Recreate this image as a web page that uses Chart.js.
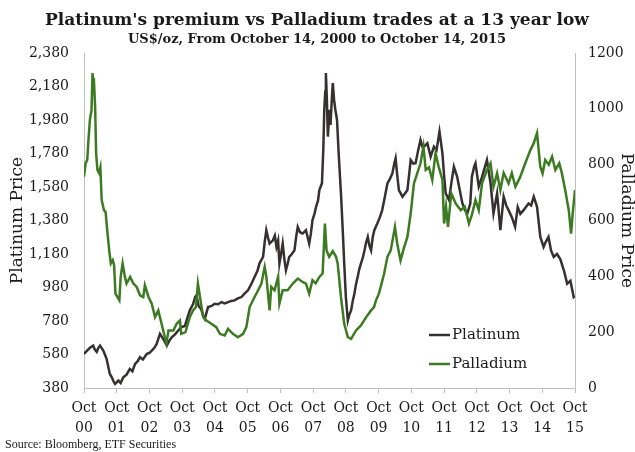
<!DOCTYPE html>
<html>
<head>
<meta charset="utf-8">
<script src="https://cdn.jsdelivr.net/npm/chart.js@4/dist/chart.umd.min.js"></script>
<style>
    html, body { margin: 0; padding: 0; background: #fff; }
</style>
</head>
<body>
<canvas id="grafico" width="635" height="452"></canvas>
<script>
const titulo = "Platinum's premium vs Palladium trades at a 13 year low";
const subtitulo = "US$/oz, From October 14, 2000 to October 14, 2015";
const fonteDados = "Source: Bloomberg, ETF Securities";

const rotulosAno = ['00', '01', '02', '03', '04', '05', '06', '07', '08', '09', '10', '11', '12', '13', '14', '15'];

// anos contados a partir de 14 out 2000
const platinaAnos = [
    0.00, 0.08, 0.18, 0.28, 0.33, 0.39, 0.44, 0.49, 0.59, 0.69, 0.79, 0.85, 0.90, 0.95, 1.05, 1.12, 1.20, 1.30, 1.40, 1.48,
    1.56, 1.64, 1.71, 1.80, 1.92, 2.00, 2.07, 2.15, 2.22, 2.32, 2.42, 2.53, 2.60, 2.68, 2.78, 2.88, 2.97, 3.08, 3.23, 3.33,
    3.40, 3.44, 3.50, 3.58, 3.64, 3.69, 3.79, 3.90, 3.99, 4.10, 4.20, 4.30, 4.40, 4.50, 4.60, 4.70, 4.81, 4.91, 5.01, 5.11,
    5.21, 5.30, 5.36, 5.47, 5.52, 5.57, 5.62, 5.67, 5.77, 5.83, 5.88, 5.93, 5.97, 6.02, 6.07, 6.12, 6.17, 6.22, 6.27, 6.35,
    6.43, 6.48, 6.53, 6.60, 6.68, 6.78, 6.88, 6.93, 6.98, 7.04, 7.09, 7.15, 7.19, 7.27, 7.31, 7.34, 7.37, 7.39, 7.42, 7.45,
    7.50, 7.53, 7.57, 7.60, 7.64, 7.68, 7.73, 7.78, 7.85, 7.90, 7.95, 8.00, 8.06, 8.11, 8.16, 8.21, 8.26, 8.31, 8.36, 8.41,
    8.46, 8.52, 8.57, 8.62, 8.67, 8.72, 8.77, 8.82, 8.87, 8.96, 9.04, 9.11, 9.19, 9.27, 9.35, 9.42, 9.48, 9.52, 9.57, 9.62,
    9.73, 9.80, 9.88, 9.93, 9.98, 10.06, 10.13, 10.20, 10.28, 10.34, 10.39, 10.49, 10.59, 10.69, 10.77, 10.86, 10.95, 11.00, 11.05, 11.15,
    11.22, 11.30, 11.40, 11.48, 11.56, 11.64, 11.71, 11.80, 11.85, 11.92, 11.96, 12.06, 12.16, 12.31, 12.42, 12.51, 12.62, 12.72, 12.82, 12.90,
    12.97, 13.07, 13.17, 13.25, 13.33, 13.43, 13.58, 13.66, 13.74, 13.84, 13.94, 14.04, 14.10, 14.19, 14.27, 14.35, 14.45, 14.55, 14.66, 14.76,
    14.86, 14.96, 15.00
];
const platinaPrecos = [
    584, 600, 620, 633, 610, 596, 620, 633, 603, 554, 464, 444, 420, 404, 424, 410, 444, 460, 494, 480,
    524, 540, 564, 550, 584, 590, 603, 620, 643, 703, 673, 633, 660, 683, 700, 723, 743, 750, 843, 880,
    925, 933, 870, 850, 813, 793, 863, 870, 883, 880, 893, 885, 893, 900, 903, 915, 923, 945, 963, 1000,
    1043, 1080, 1123, 1163, 1250, 1322, 1280, 1242, 1262, 1290, 1222, 1260, 1123, 1180, 1242, 1150, 1083, 1120, 1163, 1180,
    1202, 1280, 1342, 1310, 1302, 1322, 1242, 1300, 1382, 1420, 1462, 1500, 1562, 1602, 1800, 2040, 2150, 2260, 2100, 1881,
    2040, 1950, 2100, 2200, 2100, 2040, 1980, 1781, 1542, 1342, 1123, 923, 783, 820, 843, 900, 943, 1000, 1043, 1090,
    1123, 1160, 1202, 1250, 1282, 1230, 1202, 1280, 1322, 1362, 1400, 1442, 1520, 1602, 1630, 1661, 1720, 1751, 1650, 1562,
    1522, 1540, 1562, 1650, 1741, 1720, 1722, 1790, 1861, 1820, 1821, 1841, 1761, 1821, 1800, 1911, 1781, 1650, 1542, 1502,
    1600, 1701, 1641, 1560, 1482, 1440, 1422, 1480, 1641, 1701, 1721, 1582, 1640, 1741, 1602, 1422, 1542, 1322, 1522, 1470,
    1442, 1400, 1342, 1460, 1420, 1442, 1482, 1470, 1522, 1462, 1282, 1222, 1250, 1282, 1200, 1163, 1180, 1150, 1083, 1003,
    1020, 923, 930
];

const paladioAnos = [
    0.00, 0.05, 0.10, 0.13, 0.18, 0.23, 0.26, 0.28, 0.30, 0.34, 0.37, 0.41, 0.46, 0.50, 0.54, 0.61, 0.66, 0.71, 0.77, 0.82,
    0.88, 0.92, 0.96, 1.02, 1.08, 1.12, 1.18, 1.25, 1.30, 1.41, 1.51, 1.61, 1.71, 1.81, 1.86, 1.97, 2.07, 2.17, 2.27, 2.37,
    2.47, 2.52, 2.58, 2.73, 2.83, 2.93, 2.97, 3.10, 3.23, 3.33, 3.42, 3.48, 3.56, 3.64, 3.74, 3.89, 4.04, 4.15, 4.30, 4.40,
    4.55, 4.70, 4.86, 4.96, 5.06, 5.21, 5.32, 5.42, 5.52, 5.57, 5.67, 5.72, 5.82, 5.93, 5.97, 6.07, 6.22, 6.38, 6.53, 6.68,
    6.78, 6.88, 6.98, 7.08, 7.19, 7.29, 7.36, 7.41, 7.49, 7.60, 7.70, 7.75, 7.85, 7.95, 8.06, 8.16, 8.31, 8.46, 8.62, 8.77,
    8.86, 8.92, 9.01, 9.17, 9.27, 9.37, 9.50, 9.57, 9.67, 9.77, 9.88, 9.98, 10.08, 10.18, 10.28, 10.37, 10.44, 10.54, 10.64, 10.74,
    10.84, 10.95, 11.00, 11.06, 11.12, 11.22, 11.36, 11.51, 11.63, 11.76, 11.85, 11.96, 12.06, 12.16, 12.31, 12.42, 12.51, 12.62, 12.72, 12.82,
    12.97, 13.07, 13.18, 13.33, 13.48, 13.64, 13.74, 13.84, 13.89, 13.94, 14.01, 14.09, 14.20, 14.30, 14.40, 14.52, 14.60, 14.70, 14.81, 14.88,
    14.93, 15.00
];
const paladioPrecos = [
    757, 805, 817, 877, 960, 996, 1128, 1100, 1110, 1008, 841, 781, 770, 790, 673, 637, 630, 565, 493, 446,
    458, 440, 338, 326, 314, 398, 446, 398, 374, 398, 374, 362, 332, 326, 368, 326, 302, 254, 278, 230,
    182, 160, 206, 206, 230, 242, 194, 200, 254, 278, 290, 374, 314, 254, 242, 230, 218, 194, 188, 212,
    194, 182, 194, 218, 290, 326, 350, 374, 434, 400, 278, 362, 350, 398, 302, 350, 350, 374, 392, 380,
    374, 338, 386, 375, 398, 410, 589, 493, 470, 490, 470, 446, 326, 230, 182, 176, 206, 224, 254, 278,
    290, 314, 338, 410, 470, 493, 577, 517, 457, 500, 541, 625, 733, 769, 805, 865, 781, 790, 745, 841,
    790, 745, 589, 650, 577, 697, 660, 637, 650, 589, 620, 673, 637, 733, 781, 805, 721, 769, 709, 770,
    733, 770, 721, 757, 805, 853, 877, 913, 853, 793, 769, 817, 800, 829, 781, 805, 769, 709, 637, 553,
    625, 709
];

const corPlatina = '#363031';
const corPaladio = '#3d7b22';
const corEixo = '#bfbfbf';
const corTexto = '#1a1a1a';
const familia = '"DejaVu Serif", "Liberation Serif", serif';

function pontos(anos, precos) {
    return anos.map((x, i) => ({ x, y: precos[i] }));
}

const textosExtras = {
    id: 'textosExtras',
    afterDraw(chart) {
        const ctx = chart.ctx;
        ctx.save();
        ctx.fillStyle = corTexto;
        ctx.textAlign = 'center';
        ctx.textBaseline = 'alphabetic';
        ctx.font = 'bold 17px ' + familia;
        ctx.fillText(titulo, 317, 25);
        ctx.font = 'bold 13px ' + familia;
        ctx.fillText(subtitulo, 317, 43);

        // legenda dentro da area do grafico
        ctx.textAlign = 'left';
        ctx.textBaseline = 'middle';
        ctx.font = '15px ' + familia;
        chart.data.datasets.forEach((ds, i) => {
            const y = 335 + i * 29;
            ctx.strokeStyle = ds.borderColor;
            ctx.lineWidth = 2.5;
            ctx.beginPath();
            ctx.moveTo(429, y);
            ctx.lineTo(450, y);
            ctx.stroke();
            ctx.fillStyle = corTexto;
            ctx.fillText(ds.label, 452, y);
        });

        ctx.textBaseline = 'alphabetic';
        ctx.font = '12px "Liberation Serif", serif';
        ctx.fillText(fonteDados, 5, 448);
        ctx.restore();
    }
};

new Chart(document.getElementById('grafico'), {
    type: 'line',
    data: {
        datasets: [{
            label: 'Platinum',
            data: pontos(platinaAnos, platinaPrecos),
            yAxisID: 'yPlatina',
            borderColor: corPlatina,
            borderWidth: 2.5,
            pointRadius: 0,
            order: 1
        }, {
            label: 'Palladium',
            data: pontos(paladioAnos, paladioPrecos),
            yAxisID: 'yPaladio',
            borderColor: corPaladio,
            borderWidth: 2.5,
            pointRadius: 0,
            order: 0
        }]
    },
    options: {
        responsive: false,
        animation: false,
        devicePixelRatio: 1,
        layout: { padding: { top: 53, left: 0, right: 0, bottom: 0 } },
        plugins: {
            legend: { display: false },
            tooltip: { enabled: false }
        },
        scales: {
            x: {
                type: 'linear',
                min: 0,
                max: 15,
                ticks: {
                    stepSize: 1,
                    autoSkip: false,
                    maxRotation: 0,
                    padding: 6,
                    color: corTexto,
                    font: { family: familia, size: 14, lineHeight: 1.4 },
                    callback: valor => ['Oct', rotulosAno[valor]]
                },
                grid: { drawOnChartArea: false, drawTicks: true, tickLength: 5, color: corEixo },
                border: { color: corEixo },
                afterFit: escala => { escala.height = 64; }
            },
            yPlatina: {
                position: 'left',
                min: 380,
                max: 2380,
                ticks: {
                    stepSize: 200,
                    padding: 15,
                    color: corTexto,
                    font: { family: familia, size: 14 },
                    callback: valor => valor.toLocaleString('en-US')
                },
                grid: { display: false, drawTicks: false },
                border: { color: corEixo },
                title: {
                    display: true,
                    text: 'Platinum Price',
                    color: corTexto,
                    font: { family: familia, size: 17, lineHeight: 1 },
                    padding: { top: 9, bottom: 0 }
                },
                afterFit: escala => { escala.width = 84; }
            },
            yPaladio: {
                position: 'right',
                min: 0,
                max: 1200,
                ticks: {
                    stepSize: 200,
                    padding: 13,
                    color: corTexto,
                    font: { family: familia, size: 14 },
                    callback: valor => String(valor)
                },
                grid: { display: false, drawTicks: false },
                border: { color: corEixo },
                title: {
                    display: true,
                    text: 'Palladium Price',
                    color: corTexto,
                    font: { family: familia, size: 17, lineHeight: 1 },
                    padding: { top: 0, bottom: 0 }
                },
                afterFit: escala => { escala.width = 60; }
            }
        }
    },
    plugins: [textosExtras]
});
</script>
</body>
</html>
